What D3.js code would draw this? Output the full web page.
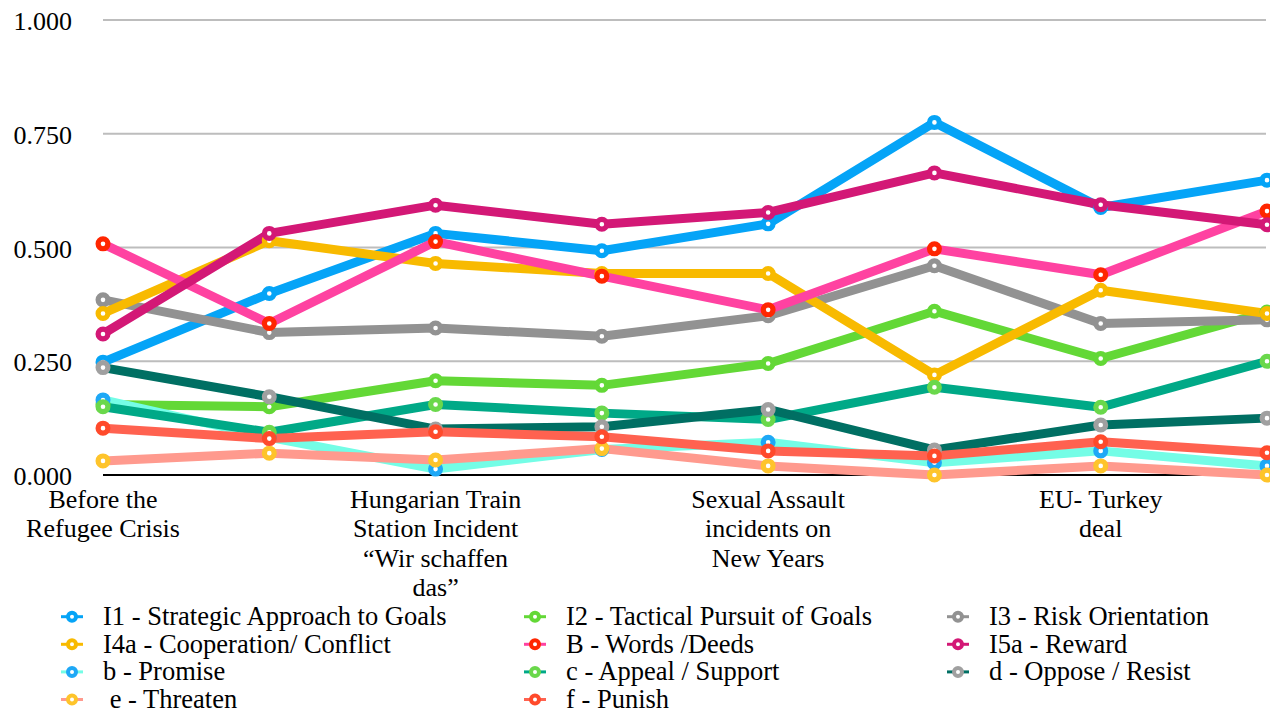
<!DOCTYPE html>
<html lang="en">
<head>
<meta charset="UTF-8">
<title>Indicators across events</title>
<script src="https://d3js.org/d3.v7.min.js"></script>
<style>
    body { margin: 0; background: white; overflow: hidden; }
    svg text { font-family: "Times New Roman", Times, "Liberation Serif", "DejaVu Serif", serif; fill: #000; }
    .tick-label { font-size: 26px; }
    .cat-label { font-size: 26px; }
    .legend-label { font-size: 26.5px; white-space: pre; }
</style>
</head>
<body>
<svg id="chart"></svg>
<script>
    // categories (only every other one carries a visible label)
    var categories = [
        ["Before the", "Refugee Crisis"],
        [],
        ["Hungarian Train", "Station Incident", "\u201cWir schaffen", "das\u201d"],
        [],
        ["Sexual Assault", "incidents on", "New Years"],
        [],
        ["EU- Turkey", "deal"],
        []
    ];
    var yTicks = [0, 0.25, 0.5, 0.75, 1];

    var seriesNames = [
        "I1 - Strategic Approach to Goals", "I2 - Tactical Pursuit of Goals", "I3 - Risk Orientation",
        "I4a - Cooperation/ Conflict", "B - Words /Deeds", "I5a - Reward",
        "b - Promise", "c - Appeal / Support", "d - Oppose / Resist",
        " e - Threaten", "f - Punish"
    ];
    var lineColors = ["#05a4f7", "#63d836", "#929292", "#f8ba00", "#ff42a1", "#d31876",
        "#74fde6", "#00a987", "#006f63", "#ff9a8e", "#ff6250"];
    var markerColors = ["#05a4f7", "#63d836", "#929292", "#f8ba00", "#ff2600", "#d31876",
        "#1ea8f6", "#6ad84b", "#a0a0a0", "#fec42b", "#ff4a2b"];

    var i1 = [0.248, 0.399, 0.531, 0.493, 0.552, 0.775, 0.588, 0.648];
    var i2 = [0.155, 0.150, 0.207, 0.197, 0.245, 0.360, 0.256, 0.358];
    var i3 = [0.385, 0.313, 0.323, 0.305, 0.350, 0.460, 0.333, 0.341];
    var i4a = [0.355, 0.515, 0.465, 0.443, 0.443, 0.220, 0.406, 0.355];
    var wordsDeeds = [0.508, 0.333, 0.513, 0.437, 0.363, 0.497, 0.440, 0.580];
    var i5a = [0.310, 0.531, 0.593, 0.551, 0.577, 0.664, 0.594, 0.550];
    var promise = [0.165, 0.083, 0.013, 0.056, 0.072, 0.027, 0.053, 0.020];
    var appeal = [0.150, 0.094, 0.155, 0.136, 0.122, 0.193, 0.149, 0.250];
    var oppose = [0.236, 0.172, 0.101, 0.106, 0.144, 0.055, 0.110, 0.125];
    var threaten = [0.031, 0.048, 0.033, 0.058, 0.020, 0.000, 0.020, 0.000];
    var punish = [0.103, 0.080, 0.095, 0.084, 0.053, 0.042, 0.073, 0.049];

    var seriesValues = [i1, i2, i3, i4a, wordsDeeds, i5a, promise, appeal, oppose, threaten, punish];

    var width = 1270, height = 713;
    var svg = d3.select("#chart").attr("width", width).attr("height", height);

    var x = d3.scalePoint()
        .domain(d3.range(categories.length))
        .range([103, 1267]);

    var y = d3.scaleLinear().domain([0, 1]).range([475, 20]);

    // gridlines
    svg.append("g").selectAll("line")
        .data(yTicks.filter(function (d) { return d > 0; }))
        .enter().append("line")
        .attr("x1", 103).attr("x2", 1266)
        .attr("y1", function (d) { return y(d); })
        .attr("y2", function (d) { return y(d); })
        .attr("stroke", "#bdbdbd")
        .attr("stroke-width", 2);

    // y tick labels
    svg.append("g").selectAll("text")
        .data(yTicks)
        .enter().append("text")
        .attr("class", "tick-label")
        .attr("x", 72)
        .attr("y", function (d) { return y(d) + 10; })
        .attr("text-anchor", "end")
        .text(function (d) { return d3.format(".3f")(d); });

    // baseline
    svg.append("line")
        .attr("x1", 103).attr("x2", 1266)
        .attr("y1", y(0)).attr("y2", y(0))
        .attr("stroke", "#000").attr("stroke-width", 2);

    // category labels
    var catG = svg.append("g").selectAll("text")
        .data(categories)
        .enter().append("text")
        .attr("class", "cat-label")
        .attr("text-anchor", "middle")
        .attr("x", function (d, i) { return x(i); })
        .attr("y", 508);
    catG.selectAll("tspan")
        .data(function (d) { return d; })
        .enter().append("tspan")
        .attr("x", function () { return d3.select(this.parentNode).attr("x"); })
        .attr("dy", function (d, i) { return i === 0 ? 0 : 29.3; })
        .text(function (d) { return d; });

    var line = d3.line()
        .x(function (d, i) { return x(i); })
        .y(function (d) { return y(d); });

    var plot = svg.append("g");
    seriesValues.forEach(function (vals, s) {
        plot.append("path")
            .datum(vals)
            .attr("d", line)
            .attr("fill", "none")
            .attr("stroke", lineColors[s])
            .attr("stroke-width", 9)
            .attr("stroke-linejoin", "round");
    });
    seriesValues.forEach(function (vals, s) {
        plot.append("g").selectAll("circle")
            .data(vals)
            .enter().append("circle")
            .attr("cx", function (d, i) { return x(i); })
            .attr("cy", function (d) { return y(d); })
            .attr("r", 4.9)
            .attr("fill", "#fff")
            .attr("stroke", markerColors[s])
            .attr("stroke-width", 5.2);
    });

    // legend
    var legendX = [72, 535, 958];
    var legendY0 = 616.7, legendStep = 27.6;
    var legend = svg.append("g").selectAll("g")
        .data(seriesNames)
        .enter().append("g")
        .attr("transform", function (d, i) {
            return "translate(" + legendX[i % 3] + "," + (legendY0 + Math.floor(i / 3) * legendStep) + ")";
        });
    legend.append("line")
        .attr("x1", -11).attr("x2", 11)
        .attr("stroke", function (d, i) { return lineColors[i]; })
        .attr("stroke-width", 3);
    legend.append("circle")
        .attr("r", 4)
        .attr("fill", "#fff")
        .attr("stroke", function (d, i) { return markerColors[i]; })
        .attr("stroke-width", 4);
    legend.append("text")
        .attr("class", "legend-label")
        .attr("x", 31)
        .attr("y", 8.5)
        .text(function (d) { return d; });
</script>
</body>
</html>
